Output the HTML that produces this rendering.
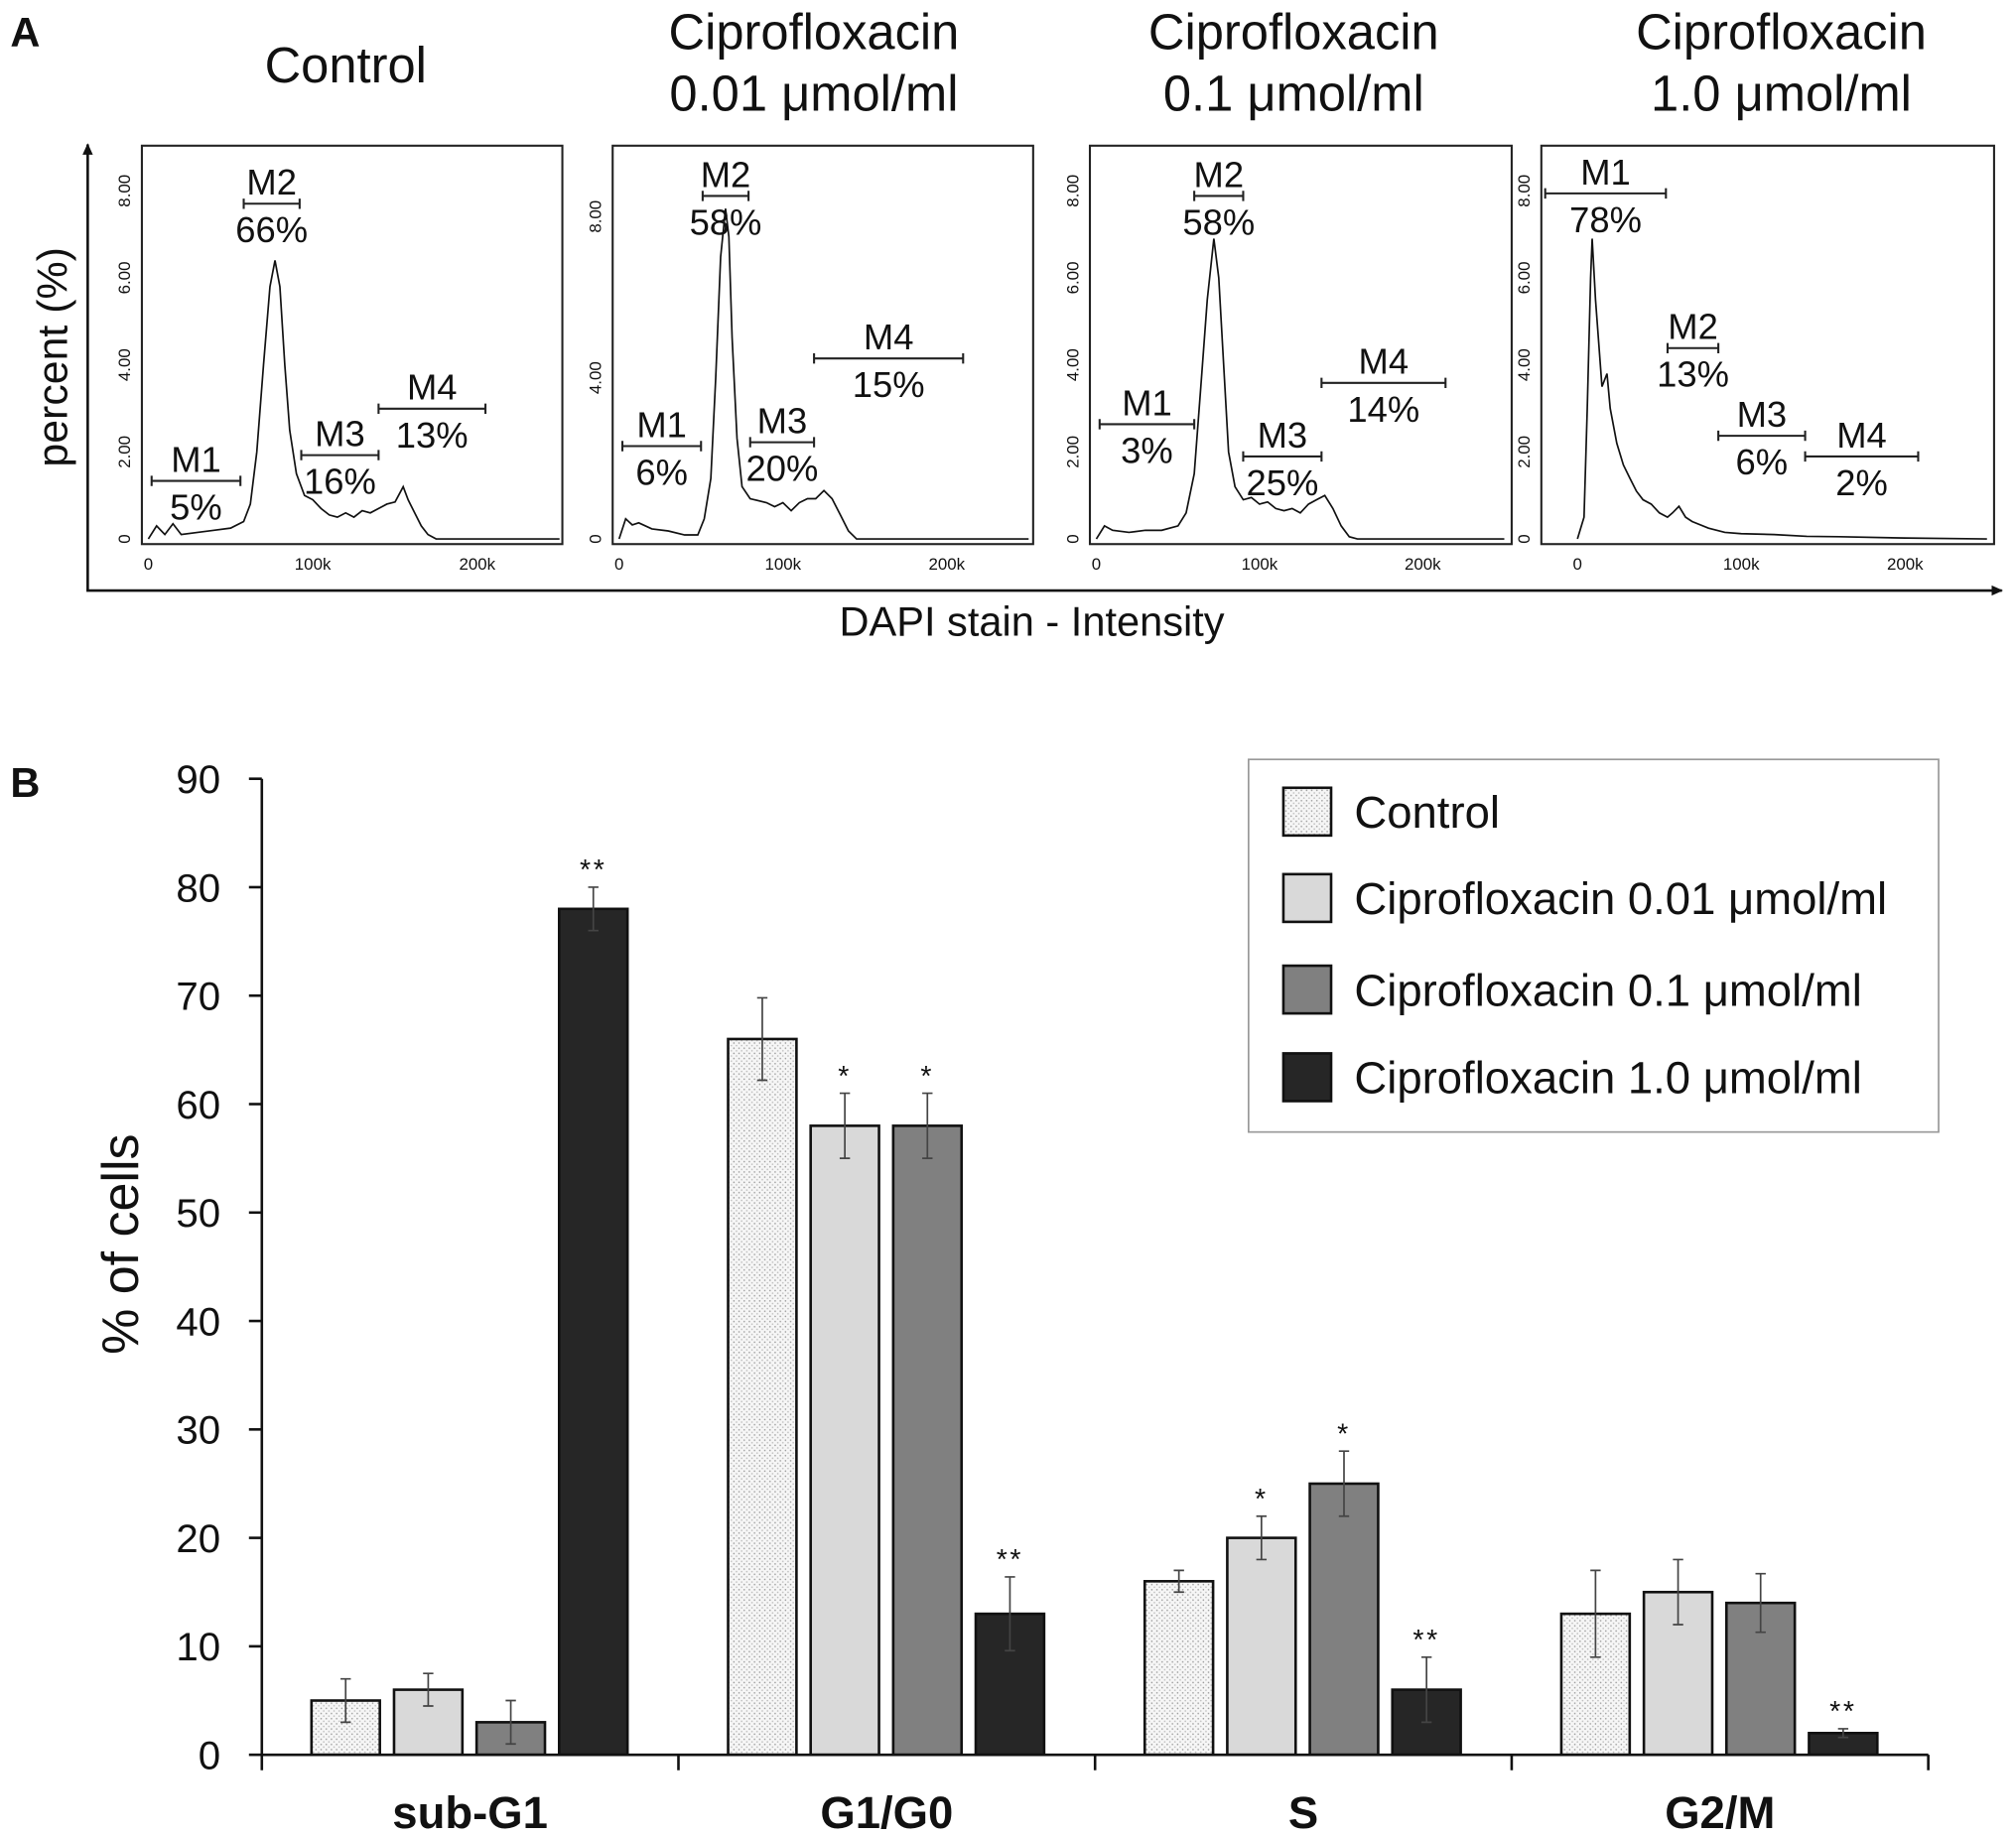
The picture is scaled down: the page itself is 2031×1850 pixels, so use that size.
<!DOCTYPE html>
<html><head><meta charset="utf-8"><style>
html,body{margin:0;padding:0;background:#fff}
svg{display:block}
text{font-family:"Liberation Sans",sans-serif;fill:#111}
</style></head><body>
<svg id="fig" width="2031" height="1850" viewBox="0 0 1563 1424" preserveAspectRatio="none" xmlns="http://www.w3.org/2000/svg">
<defs>
<pattern id="dots" width="4" height="4" patternUnits="userSpaceOnUse"><rect width="4" height="4" fill="#f6f6f6"/><circle cx="1" cy="1" r="0.6" fill="#999"/><circle cx="3" cy="3" r="0.6" fill="#bbb"/></pattern>
<marker id="arr" markerWidth="10" markerHeight="10" refX="8" refY="5" orient="auto" markerUnits="userSpaceOnUse"><path d="M0,1 L9,5 L0,9 Z" fill="#111"/></marker>
</defs>
<text x="8" y="36" font-size="32" font-weight="bold">A</text>
<text x="8" y="618" font-size="32" font-weight="bold">B</text>
<g id="partA"></g>
<g id="partB"></g>
</svg>
<script>
// ---------- Part A data ----------
const panelTitles = [["Control"],["Ciprofloxacin","0.01 μmol/ml"],["Ciprofloxacin","0.1 μmol/ml"],["Ciprofloxacin","1.0 μmol/ml"]];
const histX1 = [0,5,10,15,20,30,40,50,58,62,66,70,74,77,80,83,86,90,95,100,105,110,115,120,125,130,135,140,145,150,155,158,162,166,170,175,250];
const histY1 = [0,0.3,0.1,0.35,0.1,0.15,0.2,0.25,0.4,0.8,2,4,5.8,6.4,5.8,4,2.5,1.5,1.0,0.9,0.7,0.55,0.5,0.6,0.5,0.65,0.6,0.7,0.8,0.85,1.2,0.9,0.6,0.3,0.1,0,0];
const histX2 = [0,4,8,12,20,30,40,48,52,56,59,62,65,67,69,72,75,80,90,95,100,105,110,115,120,125,130,135,140,145,250];
const histY2 = [0,0.5,0.35,0.4,0.25,0.2,0.1,0.1,0.5,1.5,4,7,8.2,7.5,5,2.5,1.3,1.0,0.9,0.8,0.9,0.7,0.9,1.0,1.0,1.2,1.0,0.6,0.2,0,0];
const histX3 = [0,5,10,20,30,40,50,55,60,64,68,72,75,78,81,85,90,95,100,105,110,115,120,125,130,135,140,145,150,155,160,250];
const histY3 = [0,0.3,0.2,0.15,0.2,0.2,0.3,0.6,1.5,3.5,5.5,6.9,6,4,2,1.2,0.9,0.95,0.8,0.85,0.7,0.65,0.7,0.6,0.8,0.9,1.0,0.7,0.3,0.05,0,0];
const histX4 = [0,4,6,8,9,11,13,15,18,20,24,28,32,36,40,45,50,55,58,62,66,70,80,90,100,120,140,160,200,250];
const histY4 = [0,0.5,3,6,6.9,5.5,4.5,3.5,3.8,3,2.2,1.7,1.4,1.1,0.9,0.8,0.6,0.5,0.6,0.75,0.5,0.4,0.25,0.15,0.12,0.1,0.06,0.05,0.02,0];
const gateNames = ["M1","M2","M3","M4"];
const gateStart1 = [2,58,93,140], gateEnd1 = [56,92,140,205], gatePct1 = ["5%","66%","16%","13%"];
const gateStart2 = [2,51,80,119], gateEnd2 = [50,79,119,210], gatePct2 = ["6%","58%","20%","15%"];
const gateStart3 = [2,60,90,138], gateEnd3 = [60,90,138,214], gatePct3 = ["3%","58%","25%","14%"];
const gateStart4 = [-20,55,86,139], gateEnd4 = [54,86,139,208], gatePct4 = ["78%","13%","6%","2%"];
const xTickVals = [0,100,200], xTickLabels = ["0","100k","200k"];
const yTick1 = [0,2,4,6,8], yTickLab1 = ["0","2.00","4.00","6.00","8.00"];
const yTick2 = [0,4,8], yTickLab2 = ["0","4.00","8.00"];

const NS="http://www.w3.org/2000/svg";
function mk(tag,attrs,parent){const e=document.createElementNS(NS,tag);for(const k in attrs)e.setAttribute(k,attrs[k]);parent.appendChild(e);return e;}
const A=document.getElementById('partA');

const panels=[
 {left:110,right:436,x0:115,kscale:1.275,ppp:33.75,hx:histX1,hy:histY1,gs:gateStart1,ge:gateEnd1,gp:gatePct1,gy:[373,158,353,317],yt:yTick1,yl:yTickLab1,cx:268,ty:[52]},
 {left:475,right:801,x0:480,kscale:1.27,ppp:31.25,hx:histX2,hy:histY2,gs:gateStart2,ge:gateEnd2,gp:gatePct2,gy:[346,152,343,278],yt:yTick2,yl:yTickLab2,cx:631,ty:[38,86]},
 {left:845,right:1172,x0:850,kscale:1.265,ppp:33.75,hx:histX3,hy:histY3,gs:gateStart3,ge:gateEnd3,gp:gatePct3,gy:[329,152,354,297],yt:yTick1,yl:yTickLab1,cx:1003,ty:[38,86]},
 {left:1195,right:1546,x0:1223,kscale:1.27,ppp:33.75,hx:histX4,hy:histY4,gs:gateStart4,ge:gateEnd4,gp:gatePct4,gy:[150,270,338,354],yt:yTick1,yl:yTickLab1,cx:1381,ty:[38,86]}
];
const base=418;
panels.forEach((p,pi)=>{
  const xs=v=>p.x0+v*p.kscale, ys=v=>base-v*p.ppp;
  const g=mk('g',{},A);
  
  
  const t=panelTitles[pi];
  t.forEach((line,li)=>{const tx=mk('text',{x:p.cx,y:p.ty[li]+(t.length==1?12:0),'font-size':39,'text-anchor':'middle'},g);tx.textContent=line;
    
    });
  const fr=mk('rect',{x:p.left,y:113,width:p.right-p.left,height:309,fill:'none',stroke:'#222','stroke-width':1.6},g);
  
  
  let d='';p.hx.forEach((v,i)=>{d+=(i?'L':'M')+xs(v).toFixed(1)+','+ys(p.hy[i]).toFixed(1);});
  const ln=mk('path',{d:d,fill:'none',stroke:'#111','stroke-width':1.3},g);
  
  
  xTickVals.forEach((v,i)=>{const tx=mk('text',{x:xs(v),y:442,'font-size':13,'text-anchor':'middle'},g);tx.textContent=xTickLabels[i];
    
    });
  p.yt.forEach((v,i)=>{const y=ys(v);const tx=mk('text',{x:0,y:0,'font-size':13,'text-anchor':'middle',transform:`translate(${p.left-9},${y}) rotate(-90)`},g);tx.textContent=p.yl[i];
    
    });
  gateNames.forEach((nm,i)=>{
    const x1=Math.max(xs(p.gs[i]),p.left+3),x2=xs(p.ge[i]),y=p.gy[i],cx=(x1+x2)/2;
    const gg=mk('g',{},g);
    
    
    mk('path',{d:`M${x1},${y}H${x2}M${x1},${y-4}V${y+4}M${x2},${y-4}V${y+4}`,stroke:'#222','stroke-width':1.6,fill:'none'},gg);
    const a=mk('text',{x:cx,y:y-7,'font-size':28,'text-anchor':'middle'},gg);a.textContent=nm;
    const b=mk('text',{x:cx,y:y+30,'font-size':28,'text-anchor':'middle'},gg);b.textContent=p.gp[i];
  });
});
const ya=mk('line',{x1:68,y1:458,x2:68,y2:112,stroke:'#111','stroke-width':2,'marker-end':'url(#arr)'},A);


const xa=mk('line',{x1:67,y1:458,x2:1552,y2:458,stroke:'#111','stroke-width':2,'marker-end':'url(#arr)'},A);


const yt=mk('text',{x:0,y:0,'font-size':33,'text-anchor':'middle',transform:'translate(52,277) rotate(-90)'},A);yt.textContent='percent (%)';


const xt=mk('text',{x:800,y:493,'font-size':32,'text-anchor':'middle'},A);xt.textContent='DAPI stain - Intensity';



// ---------- Part B data ----------
const categories = ["sub-G1","G1/G0","S","G2/M"];
const seriesNames = ["Control","Ciprofloxacin 0.01 μmol/ml","Ciprofloxacin 0.1 μmol/ml","Ciprofloxacin 1.0 μmol/ml"];
const valControl = [5,66,16,13];
const val001 = [6,58,20,15];
const val01 = [3,58,25,14];
const val10 = [78,13,6,2];
const errControl = [2,3.8,1,4];
const err001 = [1.5,3,2,3];
const err01 = [2,3,3,2.7];
const err10 = [2,3.4,3,0.4];
const sigControl = ["","","",""];
const sig001 = ["","*","*",""];
const sig01 = ["","*","*",""];
const sig10 = ["**","**","**","**"];
const yTickValsB = [0,10,20,30,40,50,60,70,80,90];

const B=document.getElementById('partB');
const X0=203,X1=1495,Y0=1361,Y90=604;
const yS=v=>Y0-(v/90)*(Y0-Y90);
const gw=(X1-X0)/categories.length;
const gc=i=>X0+gw*(i+0.5);
const fills=['url(#dots)','#d9d9d9','#808080','#262626'];
const vals=[valControl,val001,val01,val10], errs=[errControl,err001,err01,err10], sigs=[sigControl,sig001,sig01,sig10];
const bw=53,pitch=64;
categories.forEach((c,ci)=>{
  vals.forEach((s,si)=>{
    const cx=gc(ci)+(si-1.5)*pitch-0.5, v=s[ci];
    const r=mk('rect',{x:cx-bw/2,y:yS(v),width:bw,height:Y0-yS(v),fill:fills[si],stroke:'#111','stroke-width':2},B);
    
    
    const e=errs[si][ci], yt=yS(v+e), yb=yS(Math.max(0,v-e));
    const eb=mk('path',{d:`M${cx},${yt}V${yb}M${cx-4},${yt}H${cx+4}M${cx-4},${yb}H${cx+4}`,stroke:'#444','stroke-width':1.3,fill:'none'},B);
    
    
    if(sigs[si][ci]){const st=mk('text',{x:cx,y:yt-6,'font-size':22,'text-anchor':'middle',fill:'#444','letter-spacing':'2'},B);st.textContent=sigs[si][ci];
      
      }
  });
  const lb=mk('text',{x:gc(ci),y:1418,'font-size':35,'font-weight':'bold','text-anchor':'middle'},B);lb.textContent=c;
  
  
});
const ax=mk('path',{d:`M${X0},${Y90}V${Y0}H${X1}`,stroke:'#111','stroke-width':2,fill:'none'},B);


for(let i=0;i<=categories.length;i++){const x=X0+gw*i;const tk=mk('line',{x1:x,y1:Y0,x2:x,y2:Y0+12,stroke:'#111','stroke-width':2},B);
  
  }
yTickValsB.forEach(v=>{const y=yS(v);mk('line',{x1:X0-10,y1:y,x2:X0,y2:y,stroke:'#111','stroke-width':2},B);
  const t=mk('text',{x:171,y:y+11,'font-size':31,'text-anchor':'end',fill:'#222'},B);t.textContent=v;
  
  });
const yl=mk('text',{x:0,y:0,'font-size':40,'text-anchor':'middle',transform:'translate(107,965) rotate(-90)'},B);yl.textContent='%  of cells';


const lg=mk('g',{},B);


mk('rect',{x:968,y:589,width:535,height:289,fill:'#fff',stroke:'#999','stroke-width':1.3},lg);
const rowY=[630,697,768,836];
seriesNames.forEach((n,i)=>{
  const e=mk('g',{},lg);
  
  
  mk('rect',{x:995,y:rowY[i]-19,width:37,height:37,fill:fills[i],stroke:'#111','stroke-width':2},e);
  const t=mk('text',{x:1050,y:rowY[i]+12,'font-size':35},e);t.textContent=n;
});
</script>
</body></html>
